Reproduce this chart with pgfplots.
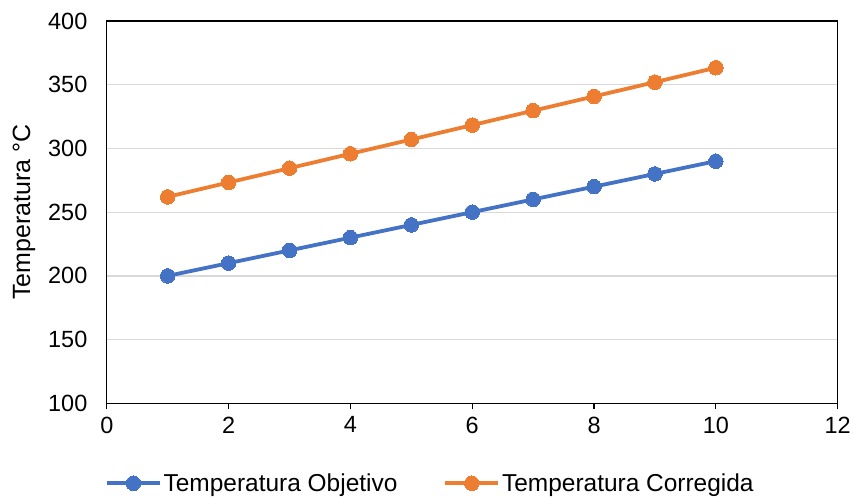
\documentclass[border=0pt]{standalone}
\usepackage{pgfplots}
\pgfplotsset{compat=1.18}
\usepackage{fontspec}
\setmainfont{Liberation Sans}
\definecolor{cblue}{HTML}{4472C4}
\definecolor{corange}{HTML}{ED7D31}
\definecolor{cgrid}{HTML}{D9D9D9}
\begin{document}
\begin{tikzpicture}
\begin{axis}[
  at={(0,0)}, anchor=south west,
  scale only axis,
  width=732bp, height=383bp,
  xmin=0, xmax=12, ymin=100, ymax=400,
  xtick={0,2,...,12}, ytick={100,150,...,400},
  xtick pos=bottom, ytick pos=left,
  axis line style={black, line width=1.3bp},
  ymajorgrids, grid style={cgrid, line width=1.3bp},
  major tick length=6bp,
  xtick style={black, line width=1.2bp},
  xtick align=outside,
  ytick style={draw=none},
  tick label style={font=\fontsize{23.5bp}{27bp}\selectfont},
  /pgf/number format/assume math mode=true,
  xticklabel style={yshift=-4bp},
  yticklabel style={xshift=-16bp},
  ylabel={Temperatura °C},
  ylabel style={font=\fontsize{25bp}{29bp}\selectfont, yshift=6bp},
  legend style={draw=none, at={(0.4426,-0.209)}, anchor=center,
    font=\fontsize{24.5bp}{29bp}\selectfont, legend columns=2,
    /tikz/every even column/.append style={column sep=44bp}},
  legend image code/.code={
    \draw[#1, mark=none] (0bp,0bp) -- (53bp,0bp);
    \draw[#1, only marks] plot coordinates {(26.5bp,0bp)};
  },
]
\addplot[cblue, line width=3.8bp, mark=*, mark size=7.3bp, mark options={line width=0pt, fill=cblue}] coordinates {
(1,200) (2,210) (3,220) (4,230) (5,240) (6,250) (7,260) (8,270) (9,280) (10,290)};
\addlegendentry{Temperatura Objetivo}
\addplot[corange, line width=3.8bp, mark=*, mark size=7.3bp, mark options={line width=0pt, fill=corange}] coordinates {
(1,262) (2,273.3) (3,284.5) (4,295.8) (5,307) (6,318.3) (7,329.6) (8,340.8) (9,352) (10,363.3)};
\addlegendentry{Temperatura Corregida}
\end{axis}
\path (-107bp,-94bp) rectangle (747bp,404bp);
\end{tikzpicture}
\end{document}
